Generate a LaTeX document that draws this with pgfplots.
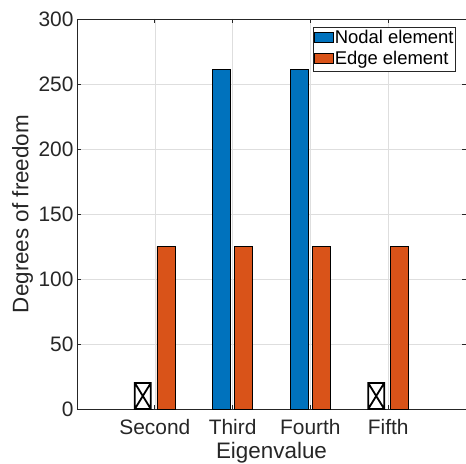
\documentclass[border=0pt]{standalone}
\usepackage{pgfplots}
\pgfplotsset{compat=1.18}
\usepackage{fontspec}
\setmainfont{Liberation Sans}
\usetikzlibrary{calc}
\definecolor{mblue}{RGB}{0,114,189}
\definecolor{morange}{RGB}{217,83,25}
\definecolor{axgray}{RGB}{38,38,38}
\pgfdeclareplotmark{boxx}{%
  \pgfpathrectangle{\pgfpoint{-8bp}{-13bp}}{\pgfpoint{16bp}{26bp}}%
  \pgfpathmoveto{\pgfpoint{-8bp}{-13bp}}\pgfpathlineto{\pgfpoint{8bp}{13bp}}%
  \pgfpathmoveto{\pgfpoint{-8bp}{13bp}}\pgfpathlineto{\pgfpoint{8bp}{-13bp}}%
  \pgfusepathqstroke}
\begin{document}
\begin{tikzpicture}
\begin{axis}[
  scale only axis, width=389bp, height=390bp,
  xmin=1, xmax=6, ymin=0, ymax=300,
  xtick={2,3,4,5}, xticklabels={Second,Third,Fourth,Fifth},
  ytick={0,50,...,300},
  /pgf/number format/assume math mode=true,
  grid=major, major grid style={line width=0.5bp, draw=black!13},
  tick align=inside, major tick length=4bp,
  axis line style={draw=axgray, line width=0.6bp},
  every tick/.style={draw=axgray, line width=0.6bp},
  tick label style={font=\fontsize{21}{24}\selectfont, text=axgray},
  label style={font=\fontsize{22.5}{26}\selectfont, text=axgray},
  xticklabel style={anchor=base, yshift=-25bp},
  xlabel={Eigenvalue}, ylabel={Degrees of freedom},
  xlabel style={at={(axis description cs:0.5,-0.128)}, anchor=base, inner sep=0pt},
  ylabel style={at={(axis description cs:-0.167,0.5)}, anchor=north, inner sep=0pt},
  legend style={at={(0.974,0.98)}, anchor=north east, draw=axgray, line width=0.5bp,
    font=\fontsize{18.5}{21}\selectfont, inner sep=1bp, row sep=0bp,
    nodes={inner xsep=1bp, inner ysep=1.5bp, text height=14bp, text depth=4bp}},
  legend cell align=left,
  legend image code/.code={\draw[#1, line width=0.5bp] (0bp,-4bp) rectangle (19bp,6bp);},
]
\addplot[ybar, bar width=18bp, bar shift=-11bp, fill=mblue, draw=black, line width=0.5bp]
  coordinates {(2,0) (3,261) (4,261) (5,0)};
\addlegendentry{Nodal element}
\addplot[ybar, bar width=18bp, bar shift=11bp, fill=morange, draw=black, line width=0.5bp]
  coordinates {(2,125) (3,125) (4,125) (5,125)};
\addlegendentry{Edge element}
\addplot[only marks, mark=boxx, mark options={draw=black, fill=white, line width=1.8bp}, forget plot]
  coordinates {(1.846,10) (4.846,10)};
\end{axis}
\pgfresetboundingbox
\path ($(current axis.south west)+(-77bp,-55bp)$) rectangle ($(current axis.north east)+(0bp,19bp)$);
\end{tikzpicture}
\end{document}
